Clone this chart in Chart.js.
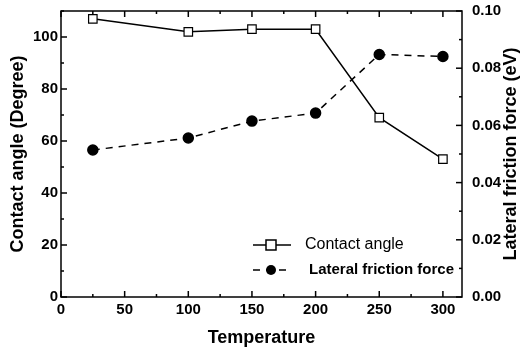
<!DOCTYPE html>
<html>
<head>
<meta charset="utf-8">
<script src="https://cdn.jsdelivr.net/npm/chart.js@4.4.0/dist/chart.umd.min.js"></script>
<style>
  html, body { margin: 0; padding: 0; background: #fff; }
  #wrap { width: 521px; height: 354px; }
</style>
</head>
<body>
<div id="wrap"><canvas id="chart" width="521" height="354"></canvas></div>
<script>
// Contact angle / lateral friction vs temperature

const temperatures = [25, 100, 150, 200, 250, 300];
const contactAngle = [107, 102, 103, 103, 69, 53];
const frictionForce = [0.0514, 0.0556, 0.0615, 0.0643, 0.0848, 0.0841];

const xTicks = [0, 50, 100, 150, 200, 250, 300];
const leftTicks = [0, 20, 40, 60, 80, 100];
const rightTicks = [0, 0.02, 0.04, 0.06, 0.08, 0.10];

const FONT = 'Liberation Sans';

// draws inward major/minor ticks, right axis title and the inside legend
const decorations = {
    id: 'decorations',
    afterDraw(chart) {
        const ctx = chart.ctx;
        const area = chart.chartArea;
        const x = chart.scales.x, y = chart.scales.y, y1 = chart.scales.y1;
        ctx.save();
        ctx.strokeStyle = '#000';
        ctx.lineWidth = 1.5;
        ctx.strokeRect(area.left, area.top, area.right - area.left, area.bottom - area.top);

        function tick(x0, y0, x1, y1p) {
            ctx.beginPath();
            ctx.moveTo(x0, y0);
            ctx.lineTo(x1, y1p);
            ctx.stroke();
        }
        for (let v = 0; v <= 300; v += 25) {
            const px = x.getPixelForValue(v);
            const len = v % 50 === 0 ? 6 : 3;
            tick(px, area.bottom, px, area.bottom - len);
            tick(px, area.top, px, area.top + len);
        }
        for (let v = 0; v <= 110; v += 10) {
            const py = y.getPixelForValue(v);
            const len = v % 20 === 0 ? 6 : 3;
            tick(area.left, py, area.left + len, py);
        }
        for (let i = 0; i <= 10; i++) {
            const py = y1.getPixelForValue(i / 100);
            const len = i % 2 === 0 ? 6 : 3;
            tick(area.right, py, area.right - len, py);
        }

        // right axis title, reading bottom to top
        ctx.save();
        ctx.translate(511, (area.top + area.bottom) / 2);
        ctx.rotate(-Math.PI / 2);
        ctx.fillStyle = '#000';
        ctx.textAlign = 'center';
        ctx.textBaseline = 'middle';
        ctx.font = 'bold 18px "' + FONT + '"';
        ctx.fillText('Lateral friction force (eV)', 0, 0);
        ctx.restore();

        // legend
        const lx = 253, ly1 = 245, ly2 = 270;
        ctx.lineWidth = 1.5;
        tick(lx, ly1, lx + 38, ly1);
        ctx.fillStyle = '#fff';
        ctx.fillRect(lx + 13, ly1 - 5, 10, 10);
        ctx.strokeRect(lx + 13, ly1 - 5, 10, 10);
        ctx.setLineDash([7, 6]);
        tick(lx, ly2, lx + 38, ly2);
        ctx.setLineDash([]);
        ctx.fillStyle = '#000';
        ctx.beginPath();
        ctx.arc(lx + 18, ly2, 5, 0, Math.PI * 2);
        ctx.fill();
        ctx.textBaseline = 'middle';
        ctx.textAlign = 'left';
        ctx.font = '16px "' + FONT + '"';
        ctx.fillText('Contact angle', 305, ly1);
        ctx.font = 'bold 15px "' + FONT + '"';
        ctx.fillText('Lateral friction force', 309, ly2);
        ctx.restore();
    }
};

const tickFont = { family: FONT, size: 15, weight: 'bold' };
const titleFont = { family: FONT, size: 18, weight: 'bold' };

function noVerticalPadding(s) {
    s.paddingTop = 0;
    s.paddingBottom = 0;
}

new Chart(document.getElementById('chart'), {
    type: 'line',
    data: {
        datasets: [
            {
                label: 'Contact angle',
                data: temperatures.map((t, i) => ({ x: t, y: contactAngle[i] })),
                borderColor: '#000',
                borderWidth: 1.5,
                pointStyle: 'rect',
                pointRadius: 6,
                pointBackgroundColor: '#fff',
                pointBorderColor: '#000',
                pointBorderWidth: 1.2,
                tension: 0,
                yAxisID: 'y'
            },
            {
                label: 'Lateral friction force',
                data: temperatures.map((t, i) => ({ x: t, y: frictionForce[i] })),
                borderColor: '#000',
                borderWidth: 1.5,
                borderDash: [7, 6],
                pointStyle: 'circle',
                pointRadius: 5,
                pointBackgroundColor: '#000',
                pointBorderColor: '#000',
                tension: 0,
                yAxisID: 'y1'
            }
        ]
    },
    options: {
        responsive: false,
        animation: false,
        layout: { padding: { top: 11, left: 3, right: 0, bottom: 1 } },
        plugins: {
            legend: { display: false },
            tooltip: { enabled: false }
        },
        scales: {
            x: {
                type: 'linear',
                min: 0,
                max: 315,
                afterBuildTicks: s => { s.ticks = xTicks.map(v => ({ value: v })); },
                afterFit: s => { s.height = 56; },
                grid: { display: false, drawTicks: false },
                border: { display: false },
                ticks: { color: '#000', font: tickFont, padding: 4, maxRotation: 0 },
                title: { display: true, text: 'Temperature', color: '#000', font: titleFont, padding: { top: 6 } }
            },
            y: {
                position: 'left',
                min: 0,
                max: 110,
                afterBuildTicks: s => { s.ticks = leftTicks.map(v => ({ value: v })); },
                afterFit: s => { s.width = 58; noVerticalPadding(s); },
                grid: { display: false, drawTicks: false },
                border: { display: false },
                ticks: { color: '#000', font: tickFont, padding: 3 },
                title: { display: true, text: 'Contact angle (Degree)', color: '#000', font: titleFont, padding: { bottom: 2 } }
            },
            y1: {
                position: 'right',
                min: 0,
                max: 0.10,
                afterBuildTicks: s => { s.ticks = rightTicks.map(v => ({ value: v })); },
                afterFit: s => { s.width = 59; noVerticalPadding(s); },
                grid: { display: false, drawTicks: false },
                border: { display: false },
                ticks: { color: '#000', font: tickFont, padding: 10, callback: v => v.toFixed(2) }
            }
        }
    },
    plugins: [decorations]
});
</script>
</body>
</html>
